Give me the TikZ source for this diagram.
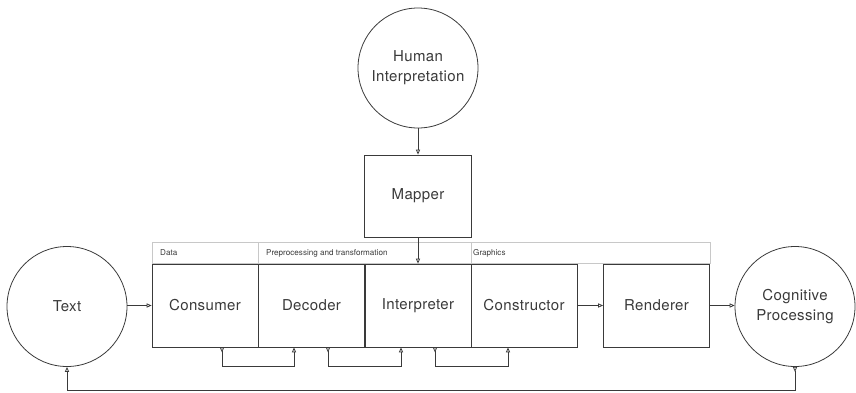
\documentclass[tikz,border=0pt]{standalone}
\usepackage{fontspec}
\setmainfont{TeX Gyre Heros}
\newfontfamily\trackedfont[LetterSpace=2.5]{TeX Gyre Heros}
\usetikzlibrary{arrows.meta,positioning,calc}

\definecolor{ink}{HTML}{3A3A3A}
\definecolor{rule}{HTML}{C8C8C8}

\tikzset{
  tip/.tip={Triangle[open,length=5pt,width=4.2pt]},
  conn/.style={draw=ink,line width=0.8pt,-tip},
  loopconn/.style={draw=ink,line width=0.8pt,{tip[reversed]}-tip},
  bubble/.style={circle,draw=ink,line width=0.8pt,minimum size=120pt,inner sep=0pt,
    align=center,font=\trackedfont\fontsize{15}{20}\selectfont,text=ink},
  stage/.style={rectangle,draw=ink,line width=0.8pt,minimum width=106pt,minimum height=83pt,
    inner sep=0pt,font=\trackedfont\fontsize{15}{20}\selectfont,text=ink},
  band/.style={draw=rule,line width=0.8pt},
  bandlabel/.style={anchor=west,inner sep=0pt,font=\fontsize{8.1}{10}\selectfont,text=ink}
}

\begin{document}
\begin{tikzpicture}[x=1pt,y=-1pt]
  \useasboundingbox (0,0) rectangle (856,392);

  % header band above the pipeline stages
  \draw[band] (152,242) rectangle (710,263.5);
  \draw[band] (258,242) -- (258,263.5);
  \draw[band] (471,242) -- (471,263.5);
  \node[bandlabel] (hdata) at (160,253) {Data};
  \node[bandlabel] (hprep) at (266,253) {Preprocessing and transformation};
  \node[bandlabel] (hgraph) at (473,253) {Graphics};

  % circles
  \node[bubble] (human) at (418,68) {Human\\Interpretation};
  \node[bubble] (text) at (67,306.5) {Text};
  \node[bubble] (cog) at (795,306.5) {Cognitive\\Processing};

  % boxes
  \node[stage,minimum height=82pt,minimum width=107pt] (mapper) at (418,196) {Mapper};
  \node[stage] (consumer) at (205,305.5) {Consumer};
  \node[stage] (decoder) at (311.5,305.5) {Decoder};
  \node[stage] (interp) at (418,305.5) {Interpreter};
  \node[stage] (constr) at (524,305.5) {Constructor};
  \node[stage] (render) at (656.5,305.5) {Renderer};

  % main flow
  \draw[conn] (human) -- (mapper);
  \draw[conn] (mapper) -- (interp);
  \draw[conn] (text.east |- consumer.west) -- (consumer.west);
  \draw[conn] (constr) -- (render);
  \draw[conn] (render.east) -- (cog.west |- render.east);

  % loops between neighbouring stages
  \draw[loopconn] ([xshift=17pt]consumer.south) -- ++(0,19) -| ([xshift=-17.5pt]decoder.south);
  \draw[loopconn] ([xshift=16.5pt]decoder.south) -- ++(0,19) -| ([xshift=-17pt]interp.south);
  \draw[loopconn] ([xshift=17pt]interp.south) -- ++(0,19) -| ([xshift=-16pt]constr.south);

  % feedback from cognition back to text
  \coordinate (fb) at (0,390.5);
  \draw[loopconn] (cog.south) -- (cog.south |- fb) -- (text.south |- fb) -- (text.south);
\end{tikzpicture}
\end{document}
